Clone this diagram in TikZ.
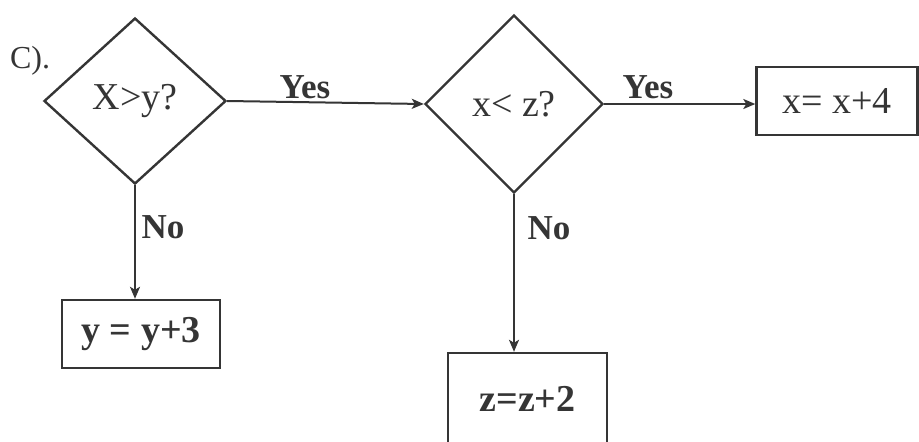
\documentclass[tikz,border=0pt]{standalone}
\usepackage{fontspec}
\setmainfont{Liberation Serif}
\usetikzlibrary{shapes.geometric,arrows.meta}
\definecolor{ink}{HTML}{353535}
\begin{document}
\begin{tikzpicture}[x=1pt,y=-1pt,
  every node/.style={text=ink},
  decision/.style={draw=ink,line width=2.4pt,diamond,aspect=1,inner sep=0pt,font=\fontsize{38}{40}\selectfont},
  procbox/.style={draw=ink,line width=2.4pt,rectangle,inner sep=0pt,font=\fontsize{38}{40}\selectfont},
  lbl/.style={inner sep=0pt,font=\fontsize{35}{38}\selectfont\bfseries},
  flow/.style={draw=ink,line width=2pt,-{Stealth[length=12pt,width=10pt,inset=3pt]}}]
\useasboundingbox (0,0) rectangle (919,442);
\clip (0,0) rectangle (919,442);
\fill[white] (0,0) rectangle (919,442);
\node[inner sep=0pt,font=\fontsize{32}{34}\selectfont] (c) at (30,61) {C).};
\node[decision,minimum width=182pt,minimum height=166pt] (d1) at (135,101) {X>y?};
\node[decision,minimum width=178pt,minimum height=178pt] (d2) at (514,104) {x< z?};
\node[procbox,minimum width=161pt,minimum height=68pt] (bx) at (837,101) {x= x+4};
\node[procbox,minimum width=158pt,minimum height=68pt,font=\fontsize{38}{40}\selectfont\bfseries] (by) at (141,334) {y = y+3};
\node[procbox,minimum width=159pt,minimum height=92pt,font=\fontsize{38}{40}\selectfont\bfseries] (bz) at (527.5,399) {z=z+2};
\draw[flow] (d1.east) -- (d2.west);
\draw[flow] (d2.east) -- (d2.east -| bx.west);
\draw[flow] (d1.south) -- (d1.south |- by.north);
\draw[flow] (d2.south) -- (d2.south |- bz.north);
\node[lbl] (y1) at (305,87) {Yes};
\node[lbl] (y2) at (648,87) {Yes};
\node[lbl] (n1) at (163,227) {No};
\node[lbl] (n2) at (549,228) {No};
\end{tikzpicture}
\end{document}
